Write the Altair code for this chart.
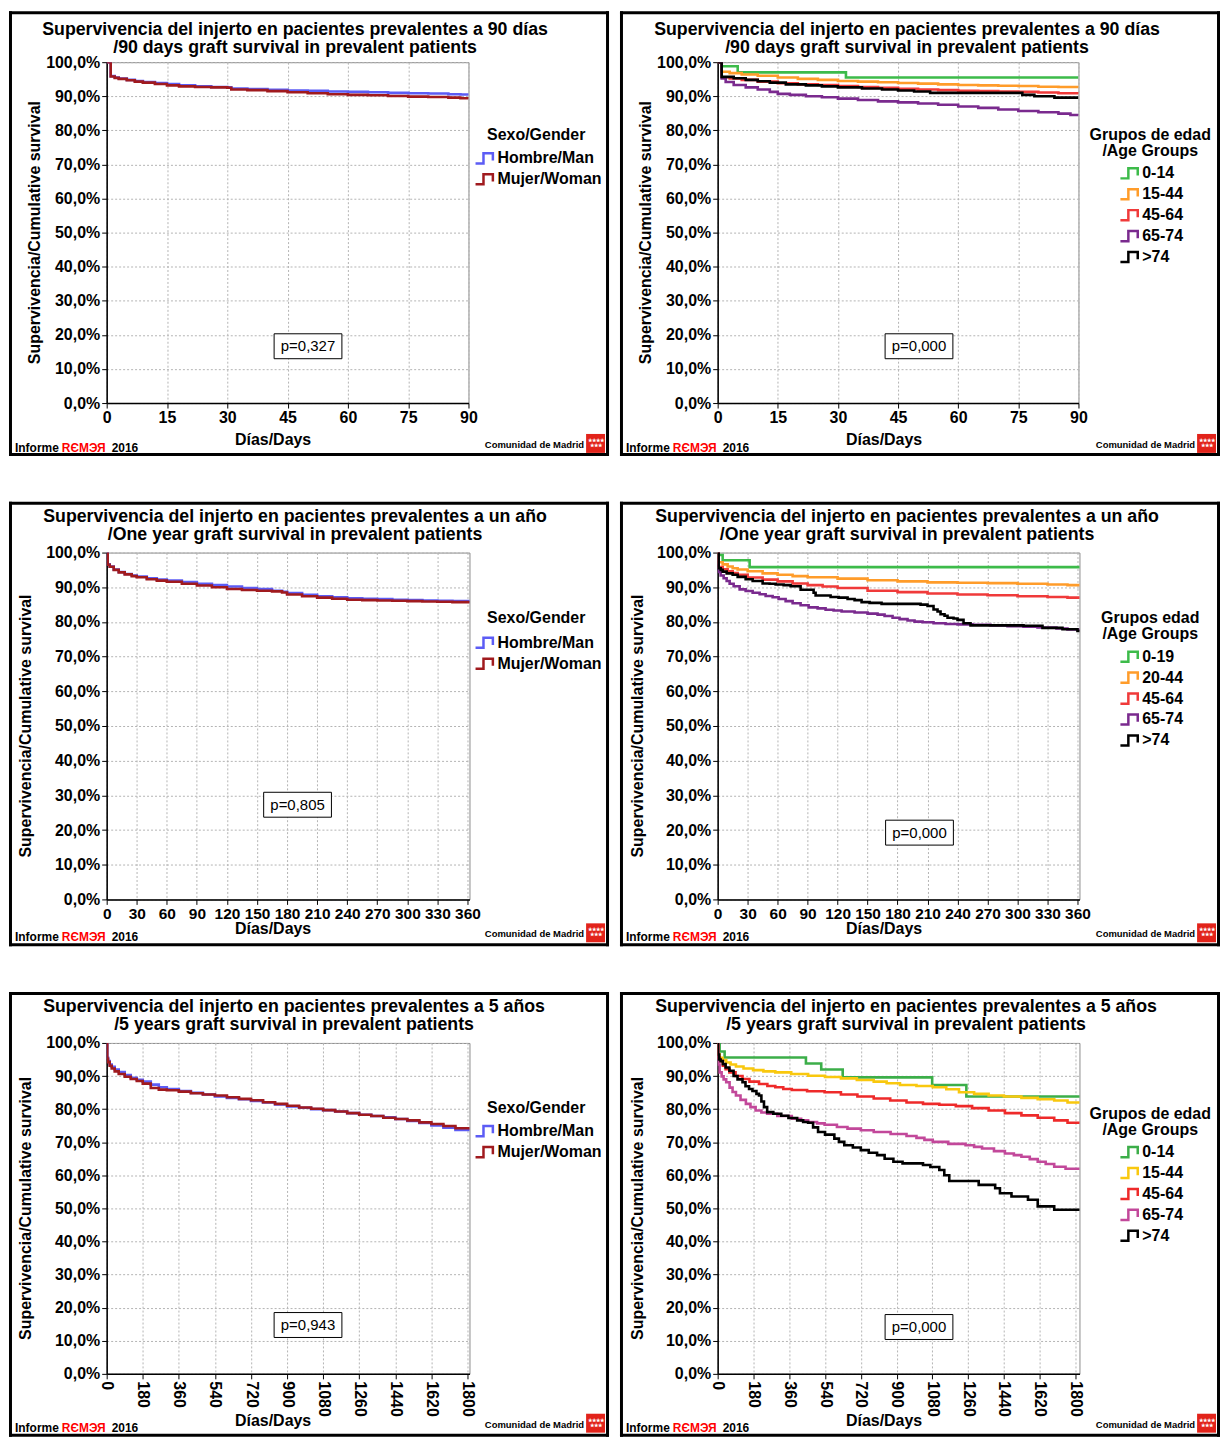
import altair as alt
import pandas as pd

FONT = "Liberation Sans"
PANEL_W = 602
PANEL_H = 446
BORDER = 3
OX = 98   # plot-area offset inside every panel frame (same for all panels)
OY = 51
STEP_SYMBOL = "M-1.3,0.7H-0.2V-0.7H1.1V0.3"

# ---------------- tick labels ----------------
Y_TICKS = [0, 10, 20, 30, 40, 50, 60, 70, 80, 90, 100]
X_TICKS_90 = [0, 15, 30, 45, 60, 75, 90]
X_TICKS_1Y = [0, 30, 60, 90, 120, 150, 180, 210, 240, 270, 300, 330, 360]
X_TICKS_5Y = [0, 180, 360, 540, 720, 900, 1080, 1260, 1440, 1620, 1800]

# ---------------- categories ----------------
GENDER = ["Hombre/Man", "Mujer/Woman"]
AGE_A = ["0-14", "15-44", "45-64", "65-74", ">74"]
AGE_B = ["0-19", "20-44", "45-64", "65-74", ">74"]

GENDER_COLORS = ["#5c5cf5", "#a01a1e"]
AGE_COLORS_1 = ["#3dbb4a", "#ff9c2a", "#f03a3a", "#7a2a8e", "#000000"]
AGE_COLORS_2 = ["#3cae49", "#f9c80e", "#ee2a2a", "#c2489a", "#000000"]

# ---------------- panel 1 : 90 days by gender ----------------
P1_DAYS = [0, 1, 2, 3, 5, 7, 9, 12, 15, 18, 22, 26, 30, 31, 35, 40, 45, 50, 55, 60, 65, 70, 75, 80, 85, 88, 90]
P1_MAN = [100, 95.9, 95.5, 95.2, 94.8, 94.5, 94.2, 93.9, 93.6, 93.2, 92.9, 92.7, 92.6, 92.3, 92.1, 91.9,
          91.7, 91.6, 91.4, 91.3, 91.2, 91.0, 90.9, 90.8, 90.6, 90.5, 90.4]
P1_WOMAN = [100, 95.8, 95.4, 95.1, 94.7, 94.3, 94.0, 93.6, 93.2, 92.9, 92.7, 92.6, 92.5, 92.0, 91.8, 91.5,
            91.2, 90.9, 90.6, 90.4, 90.3, 90.1, 89.9, 89.8, 89.6, 89.4, 89.3]

# ---------------- panel 2 : 90 days by age ----------------
P2_G1_DAYS = [0, 1, 5, 32, 90]
P2_G1 = [100, 98.8, 97.0, 95.5, 95.5]
P2_G2_DAYS = [0, 1, 3, 6, 10, 15, 20, 25, 30, 35, 40, 45, 50, 55, 60, 65, 70, 75, 80, 85, 90]
P2_G2 = [100, 97.2, 96.8, 96.4, 96.0, 95.5, 95.1, 94.8, 94.5, 94.3, 94.1, 93.9, 93.7, 93.5, 93.3, 93.2,
         93.1, 93.0, 92.8, 92.7, 92.6]
P2_G3_DAYS = [0, 1, 3, 6, 10, 15, 20, 25, 30, 35, 40, 45, 50, 55, 60, 65, 70, 75, 80, 85, 90]
P2_G3 = [100, 95.6, 95.2, 94.8, 94.3, 93.8, 93.5, 93.3, 93.0, 92.7, 92.5, 92.2, 92.0, 91.8, 91.6, 91.5,
         91.4, 91.3, 91.1, 90.9, 90.7]
P2_G4_DAYS = [0, 1, 2, 4, 7, 10, 13, 15, 18, 22, 26, 30, 35, 40, 45, 50, 55, 60, 65, 70, 75, 80, 85, 88, 90]
P2_G4 = [100, 95.2, 94.2, 93.3, 92.6, 92.0, 91.3, 90.7, 90.4, 90.0, 89.7, 89.3, 88.9, 88.5, 88.2, 87.9,
         87.5, 87.0, 86.6, 86.1, 85.7, 85.3, 84.9, 84.5, 84.4]
P2_G5_DAYS = [0, 1, 4, 7, 10, 13, 17, 22, 26, 30, 36, 41, 45, 49, 53, 60, 66, 70, 76, 79, 84, 90]
P2_G5 = [100, 95.7, 95.3, 94.8, 94.4, 94.0, 93.5, 93.2, 92.9, 92.6, 92.3, 92.0, 91.7, 91.4, 91.0, 91.0,
         91.0, 91.0, 90.4, 90.0, 89.6, 89.6]

# ---------------- panel 3 : one year by gender ----------------
P3_DAYS = [0, 1, 3, 7, 12, 18, 25, 30, 40, 50, 60, 75, 90, 105, 120, 135, 150, 165, 175, 180, 195, 210,
           225, 240, 255, 270, 285, 300, 315, 330, 345, 365]
P3_MAN = [100, 96.6, 96.0, 95.1, 94.4, 93.8, 93.4, 93.1, 92.6, 92.2, 91.9, 91.5, 91.0, 90.6, 90.2, 89.8,
          89.5, 89.0, 88.7, 88.3, 87.8, 87.4, 87.1, 86.8, 86.7, 86.6, 86.4, 86.3, 86.2, 86.1, 86.0, 85.8]
P3_WOMAN = [100, 96.5, 95.9, 95.0, 94.3, 93.7, 93.2, 92.9, 92.3, 91.9, 91.6, 91.0, 90.5, 90.0, 89.5, 89.2,
            89.0, 88.8, 88.5, 87.9, 87.4, 87.0, 86.7, 86.4, 86.3, 86.2, 86.1, 86.0, 85.9, 85.8, 85.7, 85.6]

# ---------------- panel 4 : one year by age ----------------
P4_G1_DAYS = [0, 1, 5, 32, 365]
P4_G1 = [100, 99.3, 97.8, 95.8, 95.8]
P4_G2_DAYS = [0, 1, 5, 10, 15, 20, 30, 45, 60, 75, 90, 120, 150, 180, 210, 240, 270, 300, 330, 350, 365]
P4_G2 = [100, 97.2, 96.6, 96.0, 95.5, 95.1, 94.6, 94.0, 93.6, 93.2, 92.9, 92.5, 92.0, 91.7, 91.4, 91.3,
         91.2, 91.0, 90.8, 90.6, 90.4]
P4_G3_DAYS = [0, 1, 5, 10, 15, 20, 30, 45, 60, 75, 90, 105, 120, 150, 180, 210, 240, 270, 300, 330, 350, 365]
P4_G3 = [100, 95.8, 95.2, 94.6, 94.1, 93.6, 92.8, 92.2, 91.7, 91.1, 90.6, 90.2, 89.8, 89.0, 88.6, 88.2,
         87.9, 87.7, 87.4, 87.2, 87.0, 86.7]
P4_G4_DAYS = [0, 1, 3, 6, 9, 12, 16, 22, 28, 35, 42, 48, 55, 61, 68, 75, 83, 91, 100, 108, 116, 124, 137,
              150, 160, 167, 175, 182, 190, 197, 205, 216, 228, 240, 255, 273, 290, 306, 320, 339, 350, 365]
P4_G4 = [100, 94.4, 93.4, 92.6, 91.8, 91.0, 90.3, 89.4, 88.9, 88.4, 88.0, 87.5, 87.1, 86.6, 86.0, 85.4,
         84.8, 84.2, 83.9, 83.5, 83.3, 83.0, 82.7, 82.4, 82.1, 81.7, 81.2, 80.8, 80.4, 80.1, 79.9, 79.6,
         79.4, 79.3, 79.2, 79.0, 78.8, 78.6, 78.4, 78.1, 77.8, 77.3]
P4_G5_DAYS = [0, 1, 3, 5, 9, 15, 20, 28, 35, 45, 52, 58, 66, 73, 83, 90, 96, 98, 105, 113, 121, 130, 137,
              144, 152, 164, 185, 203, 210, 216, 220, 223, 227, 230, 236, 240, 246, 253, 275, 306, 325,
              345, 360, 365]
P4_G5 = [100, 95.5, 95.0, 94.5, 94.0, 93.6, 93.0, 92.3, 91.8, 91.1, 91.0, 90.8, 90.6, 90.3, 89.3, 89.3,
         88.4, 87.6, 87.6, 87.2, 87.0, 86.6, 86.3, 85.7, 85.5, 85.2, 85.2, 85.0, 84.6, 83.6, 83.0, 82.2,
         81.8, 81.2, 81.0, 80.6, 79.6, 79.0, 79.0, 78.9, 78.3, 77.9, 77.4, 77.2]

# ---------------- panel 5 : five years by gender ----------------
P5_DAYS = [0, 3, 7, 15, 25, 40, 60, 90, 120, 150, 180, 220, 260, 300, 360, 420, 480, 540, 600, 660, 720,
           780, 840, 900, 960, 1020, 1080, 1140, 1200, 1260, 1320, 1380, 1440, 1500, 1560, 1620, 1680,
           1740, 1830]
P5_MAN = [100, 95.5, 94.5, 93.5, 92.8, 92.0, 91.2, 90.3, 89.5, 88.9, 88.3, 87.4, 86.6, 86.1, 85.5, 84.9,
          84.4, 83.8, 83.4, 83.0, 82.5, 82.0, 81.4, 80.8, 80.4, 80.0, 79.7, 79.3, 78.8, 78.3, 77.9, 77.5,
          77.0, 76.4, 75.8, 75.1, 74.4, 73.7, 72.9]
P5_WOMAN = [100, 95.2, 94.2, 93.1, 92.3, 91.4, 90.6, 89.8, 89.1, 88.5, 87.7, 86.4, 85.9, 85.7, 85.3,
            84.8, 84.4, 84.1, 83.6, 83.1, 82.7, 82.1, 81.6, 81.0, 80.5, 80.1, 79.7, 79.3, 78.8, 78.3,
            77.9, 77.4, 77.0, 76.6, 76.0, 75.5, 74.9, 74.2, 73.4]

# ---------------- panel 6 : five years by age ----------------
P6_G1_DAYS = [0, 10, 35, 444, 521, 629, 1079, 1251, 1830]
P6_G1 = [100, 97.4, 95.6, 93.8, 92.0, 89.6, 87.3, 83.8, 83.8]
P6_G2_DAYS = [0, 3, 10, 25, 43, 65, 92, 130, 178, 230, 290, 370, 455, 540, 620, 700, 785, 850, 917, 1000,
              1082, 1150, 1214, 1290, 1363, 1440, 1528, 1610, 1693, 1760, 1830]
P6_G2 = [100, 96.6, 95.5, 94.8, 94.1, 93.5, 92.9, 92.3, 91.8, 91.4, 91.1, 90.6, 90.1, 89.7, 89.3, 88.8,
         88.3, 87.8, 87.3, 87.0, 86.6, 86.0, 85.1, 84.6, 84.1, 83.8, 83.4, 83.0, 82.6, 82.0, 81.6]
P6_G3_DAYS = [0, 3, 10, 26, 40, 59, 90, 125, 160, 208, 250, 290, 330, 373, 450, 538, 620, 703, 785, 868,
              950, 1033, 1115, 1198, 1280, 1363, 1445, 1528, 1610, 1693, 1760, 1830]
P6_G3 = [100, 95.5, 94.5, 93.1, 92.1, 91.1, 90.0, 89.1, 88.3, 87.6, 87.0, 86.6, 86.1, 85.8, 85.4, 85.1,
         84.4, 83.8, 83.2, 82.6, 82.0, 81.6, 81.3, 80.9, 80.3, 79.6, 78.8, 78.1, 77.4, 76.6, 75.9, 74.9]
P6_G4_DAYS = [0, 3, 10, 20, 30, 43, 60, 75, 92, 115, 142, 165, 191, 220, 249, 300, 373, 420, 455, 500,
              538, 600, 653, 720, 785, 870, 950, 1000, 1040, 1082, 1160, 1247, 1290, 1330, 1390, 1445,
              1490, 1528, 1570, 1610, 1650, 1693, 1750, 1830]
P6_G4 = [100, 93.5, 91.1, 89.9, 89.0, 88.1, 86.5, 85.2, 84.1, 82.8, 81.6, 80.6, 79.6, 79.0, 78.6, 77.9,
         77.1, 76.6, 76.1, 75.7, 75.3, 74.6, 74.1, 73.6, 73.1, 72.5, 71.9, 71.3, 70.7, 70.1, 69.5, 69.1,
         68.6, 68.1, 67.3, 66.6, 66.1, 65.6, 64.9, 64.1, 63.4, 62.6, 62.0, 61.8]
P6_G5_DAYS = [0, 2, 8, 15, 26, 40, 59, 80, 100, 125, 140, 158, 175, 195, 208, 220, 233, 249, 280, 320, 356,
              400, 430, 455, 480, 505, 540, 587, 610, 637, 680, 720, 760, 802, 840, 884, 930, 990, 1033,
              1070, 1115, 1140, 1165, 1230, 1313, 1396, 1420, 1478, 1561, 1610, 1693, 1830]
P6_G5 = [100, 96.5, 95.0, 94.5, 93.6, 92.6, 91.6, 90.0, 89.0, 88.1, 86.9, 86.1, 85.5, 84.6, 84.1, 82.3,
         80.6, 79.1, 78.6, 78.0, 77.3, 76.6, 76.1, 75.9, 74.5, 73.1, 72.3, 71.1, 70.1, 69.1, 68.4, 67.6,
         66.8, 66.1, 65.0, 64.1, 63.6, 63.6, 63.1, 62.5, 61.6, 60.0, 58.3, 58.3, 57.1, 56.1, 54.6, 53.6,
         52.6, 50.6, 49.6, 49.3]

# ---------------- texts ----------------
TITLE_90 = ["Supervivencia del injerto en pacientes prevalentes a 90 días",
            "/90 days graft survival in prevalent patients"]
TITLE_1Y = ["Supervivencia del injerto en pacientes prevalentes a un año",
            "/One year graft survival in prevalent patients"]
TITLE_5Y = ["Supervivencia del injerto en pacientes prevalentes a 5 años",
            "/5 years graft survival in prevalent patients"]
Y_TITLE = "Supervivencia/Cumulative survival"
X_TITLE = "Días/Days"
LEG_GENDER = ["Sexo/Gender"]
LEG_AGE_A = ["Grupos de edad", "/Age Groups"]
LEG_AGE_B = ["Grupos edad", "/Age Groups"]

ONE = pd.DataFrame({"k": [0]})


def txt(x, y, s, size=16, weight="bold", color="black", align="center", angle=0):
    return alt.Chart(ONE).mark_text(
        text=s, font=FONT, fontSize=size, fontWeight=weight, color=color,
        align=align, baseline="middle", angle=angle
    ).encode(x=alt.value(x), y=alt.value(y))


def solid(x0, x1, y0, y1, fill="black"):
    return alt.Chart(ONE).mark_rect(fill=fill, strokeWidth=0).encode(
        x=alt.value(x0), x2=alt.value(x1), y=alt.value(y0), y2=alt.value(y1))


def outlined(x0, x1, y0, y1):
    return alt.Chart(ONE).mark_rect(fill="white", stroke="black", strokeWidth=1).encode(
        x=alt.value(x0), x2=alt.value(x1), y=alt.value(y0), y2=alt.value(y1))


def build_panel(p):
    pw, ph = p["pw"], p["ph"]
    names = [s[0] for s in p["series"]]
    cscale = alt.Scale(domain=names, range=p["colors"])
    legend = alt.Legend(
        title=None, orient="none", legendX=p["leg_x"], legendY=p["leg_y"],
        symbolType=STEP_SYMBOL, symbolSize=210, symbolStrokeWidth=2.5,
        symbolFillColor="transparent", labelFont=FONT, labelFontSize=16,
        labelFontWeight="bold", labelColor="black", labelOffset=4,
        rowPadding=0, padding=0, labelLimit=300)
    xaxis = alt.Axis(values=p["xticks"], title=None, labelAngle=p["angle"], grid=True, format="d",
                     labelFontSize=p["xlab_size"])
    yaxis = alt.Axis(values=Y_TICKS, title=None, grid=True,
                     labelExpr="replace(format(datum.value, '.1f'), '.', ',') + '%'")
    xs = alt.Scale(domain=[0, p["xmax"]], nice=False, zero=False)
    ys = alt.Scale(domain=[0, 100], nice=False, zero=False)

    x0, x1, y0, y1 = -OX, -OX + PANEL_W, -OY, -OY + PANEL_H
    layers = [
        solid(x0, x1, y0, y0 + BORDER), solid(x0, x1, y1 - BORDER, y1),
        solid(x0, x0 + BORDER, y0, y1), solid(x1 - BORDER, x1, y0, y1),
    ]
    for name, days, surv in p["series"]:
        df = pd.DataFrame({"day": days, "surv": surv, "group": [name] * len(days)})
        layers.append(
            alt.Chart(df).mark_line(interpolate="step-after", strokeWidth=2.6, clip=True).encode(
                x=alt.X("day:Q", scale=xs, axis=xaxis),
                y=alt.Y("surv:Q", scale=ys, axis=yaxis),
                color=alt.Color("group:N", scale=cscale, legend=legend),
            ))
    # titles
    layers.append(txt(p["title_x"], p["t1y"], p["title"][0], size=17.8))
    layers.append(txt(p["title_x"], p["t1y"] + 18, p["title"][1], size=17.8))
    # axis titles
    layers.append(txt(p["ytitle_x"], ph / 2, Y_TITLE, angle=270))
    layers.append(txt(167, ph + p["xtitle_dy"], X_TITLE))
    # legend title
    for i, line in enumerate(p["leg_title"]):
        layers.append(txt(p["leg_tx"], p["leg_ty"] + 16 * i, line))
    # p-value box
    px, py = p["pval_xy"]
    layers.append(outlined(px - 34, px + 34, py - 12.5, py + 12.5))
    layers.append(txt(px, py, p["pval"], size=15, weight="normal"))
    # footer
    fy = ph + p["foot_dy"]
    layers.append(txt(-OX + 6, fy, "Informe", size=12, align="left"))
    layers.append(txt(-OX + 53, fy, "RЄMЭЯ", size=12, align="left", color="#ff0000"))
    layers.append(txt(-OX + 103, fy, "2016", size=12, align="left"))
    layers.append(txt(-OX + 577, fy - 3, "Comunidad de Madrid", size=9.5, align="right"))
    ly0 = fy - 14
    layers.append(solid(-OX + 579, -OX + 598, ly0, ly0 + 19, fill="#e2231a"))
    layers.append(txt(-OX + 588.5, ly0 + 6, "★★★★", size=5, color="white"))
    layers.append(txt(-OX + 588.5, ly0 + 11, "★★★", size=5, color="white"))

    return alt.layer(*layers).properties(width=pw, height=ph)


PANELS = [
    dict(series=[(GENDER[0], P1_DAYS, P1_MAN), (GENDER[1], P1_DAYS, P1_WOMAN)],
         colors=GENDER_COLORS, xmax=90, xticks=X_TICKS_90, angle=0, xlab_size=16,
         pw=363, ph=342, title=TITLE_90, title_x=189, t1y=-32,
         ytitle_x=-72, xtitle_dy=37, leg_title=LEG_GENDER, leg_tx=431, leg_ty=73,
         leg_x=371, leg_y=88, pval="p=0,327", pval_xy=(202, 285),
         foot_dy=45),
    dict(series=[(AGE_A[0], P2_G1_DAYS, P2_G1), (AGE_A[1], P2_G2_DAYS, P2_G2), (AGE_A[2], P2_G3_DAYS, P2_G3),
                 (AGE_A[3], P2_G4_DAYS, P2_G4), (AGE_A[4], P2_G5_DAYS, P2_G5)],
         colors=AGE_COLORS_1, xmax=90, xticks=X_TICKS_90, angle=0, xlab_size=16,
         pw=362, ph=342, title=TITLE_90, title_x=190, t1y=-32,
         ytitle_x=-72, xtitle_dy=37, leg_title=LEG_AGE_A, leg_tx=434, leg_ty=73,
         leg_x=405, leg_y=103, pval="p=0,000", pval_xy=(202, 285),
         foot_dy=45),
    dict(series=[(GENDER[0], P3_DAYS, P3_MAN), (GENDER[1], P3_DAYS, P3_WOMAN)],
         colors=GENDER_COLORS, xmax=362, xticks=X_TICKS_1Y, angle=0, xlab_size=15.5,
         pw=364, ph=348, title=TITLE_1Y, title_x=189, t1y=-36,
         ytitle_x=-81, xtitle_dy=30, leg_title=LEG_GENDER, leg_tx=431, leg_ty=66,
         leg_x=371, leg_y=82, pval="p=0,805", pval_xy=(191.5, 253),
         foot_dy=38),
    dict(series=[(AGE_B[0], P4_G1_DAYS, P4_G1), (AGE_B[1], P4_G2_DAYS, P4_G2), (AGE_B[2], P4_G3_DAYS, P4_G3),
                 (AGE_B[3], P4_G4_DAYS, P4_G4), (AGE_B[4], P4_G5_DAYS, P4_G5)],
         colors=AGE_COLORS_1, xmax=362, xticks=X_TICKS_1Y, angle=0, xlab_size=15.5,
         pw=363, ph=348, title=TITLE_1Y, title_x=190, t1y=-36,
         ytitle_x=-80, xtitle_dy=30, leg_title=LEG_AGE_B, leg_tx=434, leg_ty=66,
         leg_x=405, leg_y=96, pval="p=0,000", pval_xy=(202.5, 281),
         foot_dy=38),
    dict(series=[(GENDER[0], P5_DAYS, P5_MAN), (GENDER[1], P5_DAYS, P5_WOMAN)],
         colors=GENDER_COLORS, xmax=1810, xticks=X_TICKS_5Y, angle=90, xlab_size=16,
         pw=364, ph=332, title=TITLE_5Y, title_x=188, t1y=-36,
         ytitle_x=-81, xtitle_dy=47, leg_title=LEG_GENDER, leg_tx=431, leg_ty=65,
         leg_x=371, leg_y=80, pval="p=0,943", pval_xy=(202, 283),
         foot_dy=54),
    dict(series=[(AGE_A[0], P6_G1_DAYS, P6_G1), (AGE_A[1], P6_G2_DAYS, P6_G2), (AGE_A[2], P6_G3_DAYS, P6_G3),
                 (AGE_A[3], P6_G4_DAYS, P6_G4), (AGE_A[4], P6_G5_DAYS, P6_G5)],
         colors=AGE_COLORS_2, xmax=1820, xticks=X_TICKS_5Y, angle=90, xlab_size=16,
         pw=363, ph=332, title=TITLE_5Y, title_x=189, t1y=-36,
         ytitle_x=-80, xtitle_dy=47, leg_title=LEG_AGE_A, leg_tx=434, leg_ty=71,
         leg_x=405, leg_y=101, pval="p=0,000", pval_xy=(202, 285),
         foot_dy=54),
]

charts = [build_panel(p) for p in PANELS]
rows = [alt.hconcat(charts[i], charts[i + 1], spacing=9).resolve_scale(color="independent")
        for i in (0, 2, 4)]

chart = alt.vconcat(*rows, spacing=44).resolve_scale(color="independent").properties(
    padding=0
).configure_view(
    stroke="#8c8c8c", strokeWidth=1
).configure_axis(
    labelFont=FONT, labelFontSize=16, labelFontWeight="bold", labelColor="black",
    labelPadding=2, labelOverlap=False, labelFlush=False,
    domainColor="black", domainWidth=1.5, tickColor="black", tickSize=5, tickWidth=1,
    gridColor="#b4b4b4", gridDash=[2, 2], gridWidth=1,
)

chart.save("out.html", embed_options={"renderer": "svg", "actions": False})
